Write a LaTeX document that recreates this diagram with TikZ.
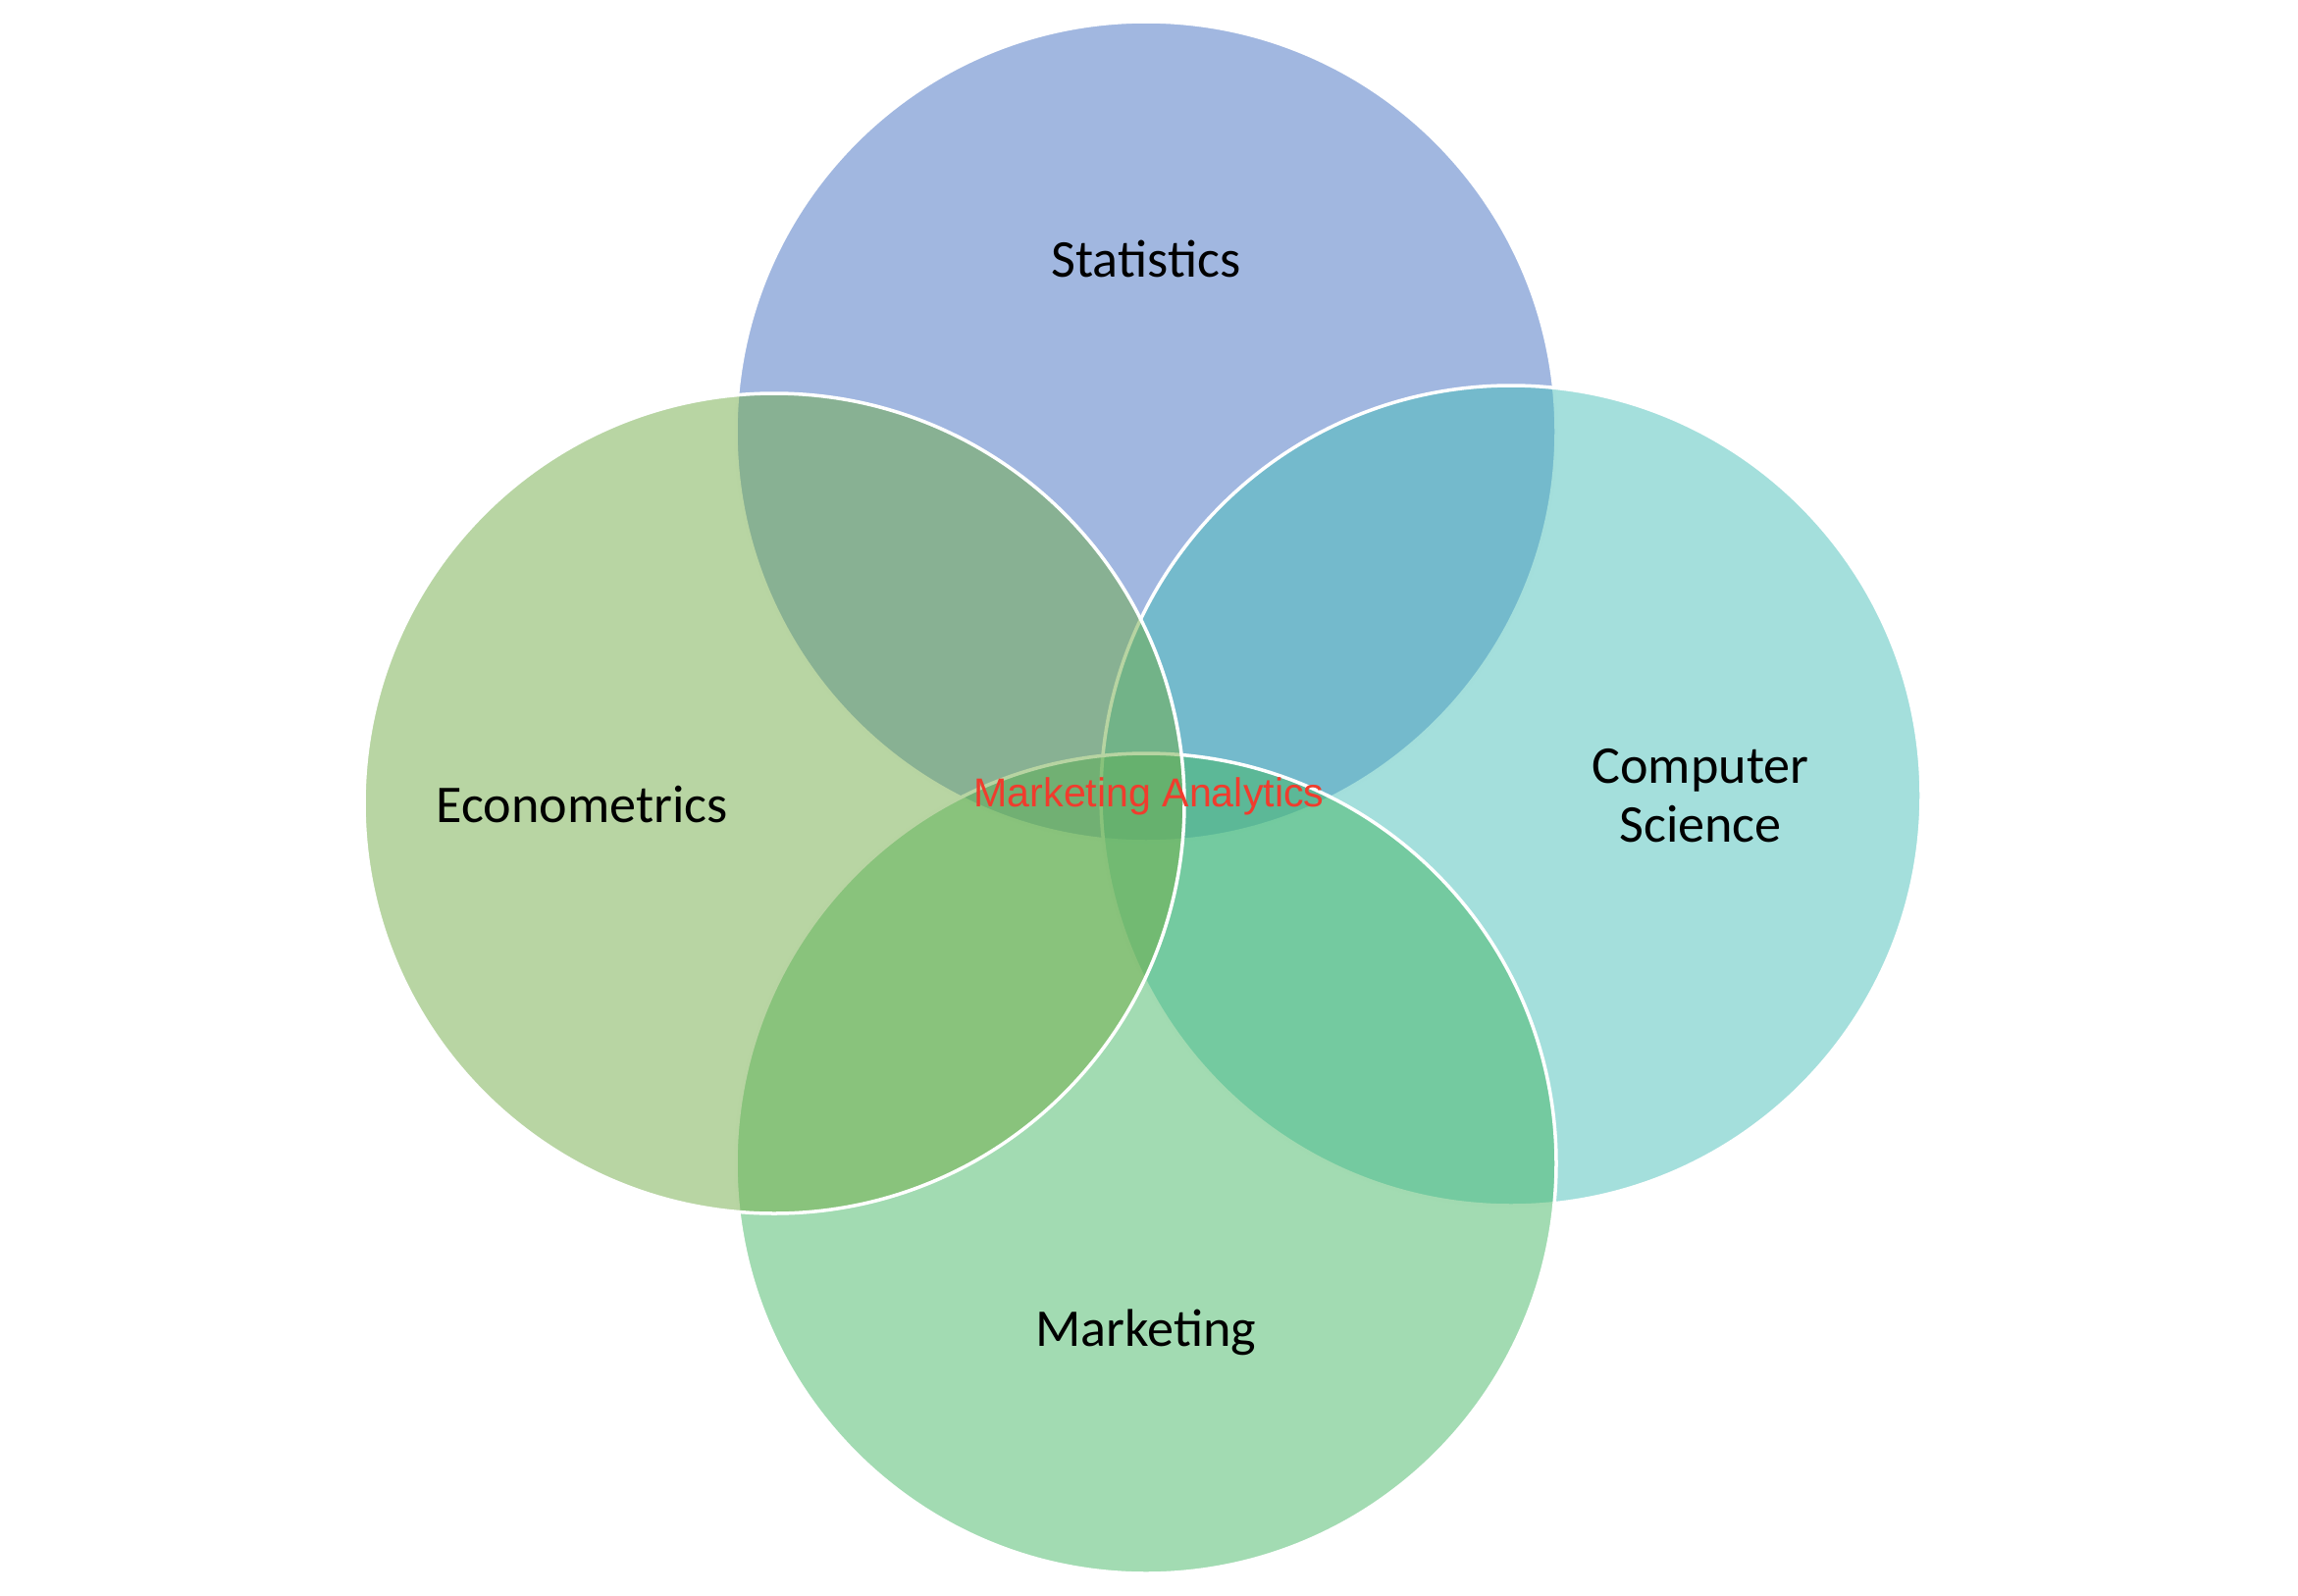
\documentclass[tikz,border=0pt]{standalone}
\usepackage{fontspec}
\setmainfont{Carlito}
\newfontfamily\arialfont{Liberation Sans}
\definecolor{cstat}{RGB}{67,111,193}
\definecolor{cecon}{RGB}{113,171,71}
\definecolor{ccs}{RGB}{73,191,185}
\definecolor{cmkt}{RGB}{69,183,101}
\definecolor{cred}{RGB}{240,60,45}
\begin{document}
\begin{tikzpicture}[x=0.01cm,y=-0.01cm,
  venn/.style={fill opacity=0.5, draw=white, draw opacity=1, line width=0.035cm},
  lbl/.style={font=\fontsize{15.4pt}{17pt}\selectfont, text=black, align=center, inner sep=0pt},
  core/.style={font=\arialfont\fontsize{11.7pt}{14pt}\selectfont, text=cred, inner sep=0pt}]
\useasboundingbox (0,0) rectangle (2342,1627);
\path[venn, fill=cstat] (1168,440) circle[radius=418];
\path[venn, fill=ccs] (1540,811) circle[radius=418];
\path[venn, fill=cmkt] (1168,1186) circle[radius=418];
\path[venn, fill=cecon] (789,819) circle[radius=418];
\node[lbl] (stat) at (1168,264) {Statistics};
\node[lbl] (econ) at (593,820) {Econometrics};
\node[lbl] (cs) at (1733,811) {Computer\\Science};
\node[lbl] (mkt) at (1168,1358) {Marketing};
\node[core] (ma) at (1171,812) {Marketing Analytics};
\end{tikzpicture}
\end{document}
